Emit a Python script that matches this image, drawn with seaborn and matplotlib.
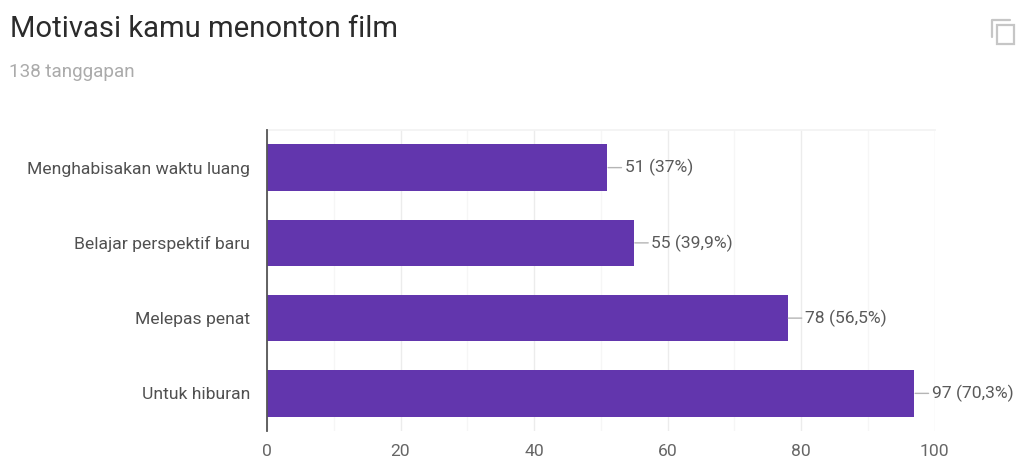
import matplotlib
matplotlib.use("Agg")
import matplotlib.pyplot as plt
from matplotlib.patches import Rectangle
from matplotlib.lines import Line2D
import pandas as pd
import seaborn as sns

# Survey responses
title = "Motivasi kamu menonton film"
subtitle = "138 tanggapan"
categories = ["Menghabisakan waktu luang", "Belajar perspektif baru", "Melepas penat", "Untuk hiburan"]
counts = [51, 55, 78, 97]
percents = ["37%", "39,9%", "56,5%", "70,3%"]
x_ticks = [0, 20, 40, 60, 80, 100]
x_minor = [10, 30, 50, 70, 90]

W, H = 1016, 459
sns.set_theme(style="white")
plt.rcParams["font.family"] = ["Roboto", "DejaVu Sans"]

fig = plt.figure(figsize=(W / 100, H / 100), dpi=100, facecolor="white")
ax = fig.add_axes([267 / W, 1 - 431 / H, 667.5 / W, 301 / H])

df = pd.DataFrame({"category": categories, "count": counts})
sns.barplot(data=df, x="count", y="category", color="#6236ad", saturation=1,
            width=0.62, linewidth=0, ax=ax, zorder=3)

ax.set_xlim(0, 100)
ax.set_ylim(3.5, -0.5)
ax.set_xlabel("")
ax.set_ylabel("")
ax.set_xticks(x_ticks)
ax.set_xticks(x_minor, minor=True)
ax.grid(True, axis="x", which="major", color="#ececec", lw=1, zorder=0)
ax.grid(True, axis="x", which="minor", color="#f6f6f6", lw=1, zorder=0)
ax.tick_params(axis="x", which="both", length=0, pad=9, labelsize=12.6, labelcolor="#666666")
ax.tick_params(axis="y", length=0, pad=12, labelsize=12.6, labelcolor="#505050")

for side in ("right", "bottom"):
    ax.spines[side].set_visible(False)
ax.spines["top"].set_color("#f3f3f3")
ax.spines["left"].set_color("#555555")
ax.spines["left"].set_linewidth(1.3)
ax.spines["left"].set_zorder(5)

# Value labels joined to each bar by a short leader
for i, (n, p) in enumerate(zip(counts, percents)):
    ax.annotate(f"{n} ({p})", xy=(n, i), xycoords="data",
                xytext=(12.5, 0), textcoords="offset points",
                ha="left", va="center", fontsize=12.6, color="#5a5a5a",
                annotation_clip=False, zorder=6,
                arrowprops=dict(arrowstyle="-", color="#b5b5b5", lw=1,
                                shrinkA=0, shrinkB=0.5))

fig.text(10 / W, 1 - 29 / H, title, fontsize=21.1, color="#2b2b2b", ha="left", va="center")
fig.text(9 / W, 1 - 72 / H, subtitle, fontsize=13.6, color="#ababab", ha="left", va="center")

# Copy icon in the header
trans = fig.transFigure
icon_color = "#c6c6c6"
fig.add_artist(Rectangle((997 / W, 1 - 44 / H), 17 / W, 19 / H, transform=trans,
                         fill=False, edgecolor=icon_color, lw=1.6))
fig.add_artist(Line2D([992 / W, 992 / W, 1010 / W], [1 - 37 / H, 1 - 20 / H, 1 - 20 / H],
                      transform=trans, color=icon_color, lw=1.6))

fig.savefig("out.png", dpi=100, facecolor="white")
